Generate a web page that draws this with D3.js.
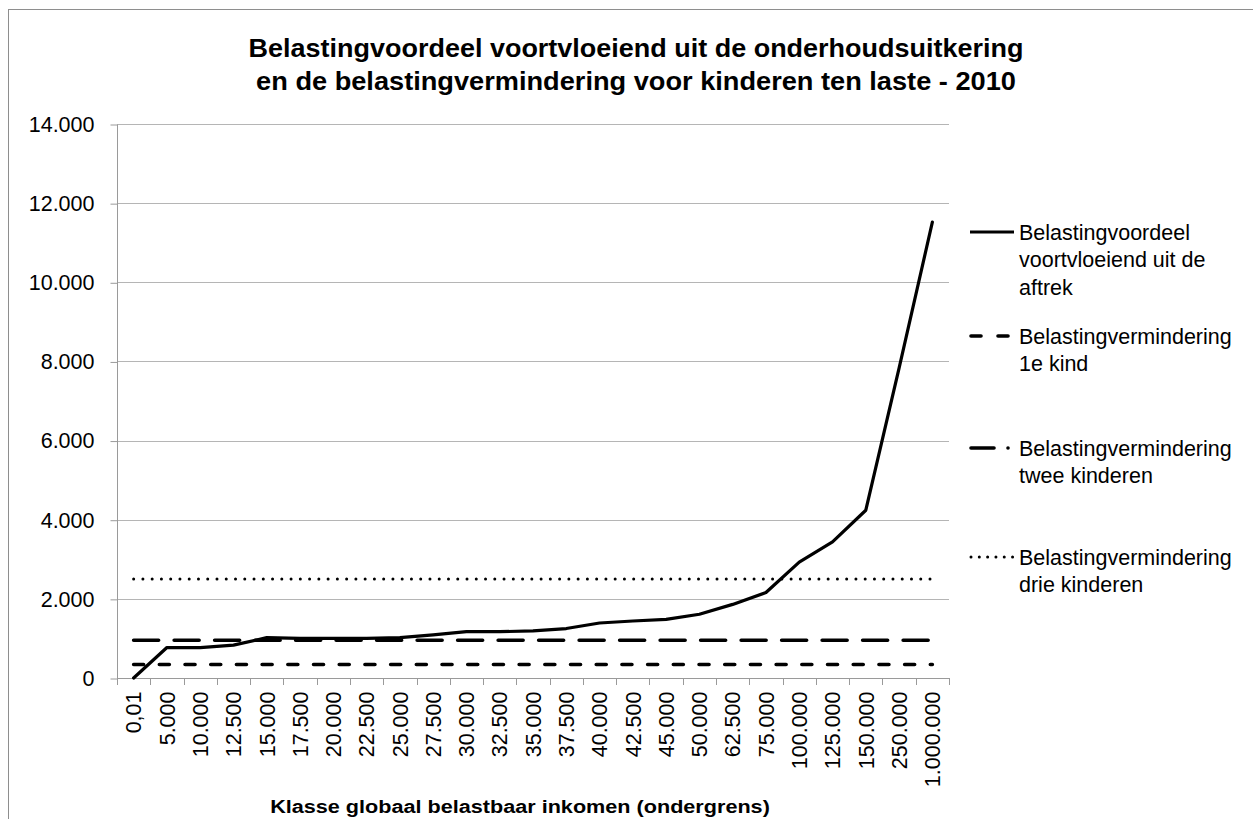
<!DOCTYPE html>
<html><head><meta charset="utf-8">
<script src="https://cdn.jsdelivr.net/npm/d3@7"></script>
<style>body{margin:0;background:#fff}svg{display:block;font-family:"Liberation Sans",Arial,sans-serif}</style>
</head><body><svg id="c" width="1253" height="819"></svg>
<script>
const categories = ["0,01","5.000","10.000","12.500","15.000","17.500","20.000","22.500","25.000","27.500","30.000","32.500","35.000","37.500","40.000","42.500","45.000","50.000","62.500","75.000","100.000","125.000","150.000","250.000","1.000.000"];
const voordeelAftrek = [0,770,770,830,1020,1000,1000,1000,1020,1090,1170,1170,1190,1250,1390,1440,1480,1610,1860,2160,2930,3440,4240,7830,11520];
const kind1 = categories.map(() => 342);
const tweeKinderen = categories.map(() => 955);
const drieKinderen = categories.map(() => 2500);
const yTicks = [0,2000,4000,6000,8000,10000,12000,14000];
const titleLines = ["Belastingvoordeel voortvloeiend uit de onderhoudsuitkering","en de belastingvermindering voor kinderen ten laste - 2010"];
const xTitle = "Klasse globaal belastbaar inkomen (ondergrens)";
const seriesNames = [["Belastingvoordeel","voortvloeiend uit de","aftrek"],["Belastingvermindering","1e kind"],["Belastingvermindering","twee kinderen"],["Belastingvermindering","drie kinderen"]];

const svg = d3.select("#c");
const L = 117, R = 949, T = 124, B = 678;
const x = d3.scaleBand().domain(categories).range([L, R]);
const y = d3.scaleLinear().domain([0, 14000]).range([B, T]);
const fmt = v => d3.format(",")(v).replace(/,/g, ".");

// frame
svg.append("rect").attr("x", 8.5).attr("y", 9.5).attr("width", 1400).attr("height", 1000)
  .attr("fill", "none").attr("stroke", "#8e8e8e").attr("stroke-width", 1);

// gridlines
svg.append("g").selectAll("line").data(yTicks.filter(d => d > 0)).join("line")
  .attr("x1", L).attr("x2", R).attr("y1", d => Math.round(y(d)) + 0.5).attr("y2", d => Math.round(y(d)) + 0.5)
  .attr("stroke", "#b5b5b5").attr("stroke-width", 1);

// y axis
const yAxis = svg.append("g").attr("transform", `translate(${L + 0.5},0.5)`)
  .call(d3.axisLeft(y).tickValues(yTicks).tickFormat(fmt).tickSize(7).tickPadding(16));
yAxis.select(".domain").attr("stroke", "#9a9a9a").attr("d", `M0,${T}V${B}`);
yAxis.selectAll(".tick line").attr("stroke", "#9a9a9a");
yAxis.selectAll(".tick text").attr("font-size", 21.5).attr("fill", "#000")
  .attr("font-family", "'Liberation Sans',Arial,sans-serif");

// x axis
const xAxis = svg.append("g").attr("transform", `translate(0,${B + 0.5})`)
  .call(d3.axisBottom(x).tickSize(0).tickPadding(0));
xAxis.select(".domain").attr("stroke", "#9a9a9a").attr("d", `M${L},0H${R}`);
xAxis.selectAll(".tick text").attr("font-size", 21.5).attr("fill", "#000")
  .attr("font-family", "'Liberation Sans',Arial,sans-serif")
  .attr("text-anchor", "end").attr("transform", "rotate(-90)")
  .attr("x", -13).attr("y", 0).attr("dy", "0.36em");
// boundary ticks
const bounds = categories.map(c => x(c)).concat([R]);
svg.append("g").selectAll("line").data(bounds).join("line")
  .attr("x1", d => Math.round(d) + 0.5).attr("x2", d => Math.round(d) + 0.5)
  .attr("y1", B).attr("y2", B + 7).attr("stroke", "#9a9a9a");

// series
const cx = c => x(c) + x.bandwidth() / 2;
const line = d3.line().x((d, i) => cx(categories[i])).y(d => y(d));
const styles = [
  {data: voordeelAftrek, dash: null, cap: "round", w: 3.2},
  {data: kind1, dash: "10,15.7", cap: "round", w: 3.6},
  {data: tweeKinderen, dash: "25,15.5", cap: "round", w: 3.6},
  {data: drieKinderen, dash: "0.01,9.25", cap: "round", w: 3.0}
];
const drawOrder = [3, 1, 2, 0];
drawOrder.forEach(k => {
  const s = styles[k];
  svg.append("path").datum(s.data).attr("d", line).attr("fill", "none")
    .attr("stroke", "#000").attr("stroke-width", s.w).attr("stroke-linecap", s.cap)
    .attr("stroke-linejoin", "round").attr("stroke-dasharray", s.dash);
});

// legend
const legY = [232, 336, 448, 557];
const lg = svg.append("g");
seriesNames.forEach((names, k) => {
  const s = styles[k];
  const sample = lg.append("g");
  if (k === 0) sample.append("line").attr("x1", 970).attr("x2", 1014);
  else if (k === 1) { sample.append("line").attr("x1", 971).attr("x2", 981); sample.append("line").attr("x1", 998).attr("x2", 1008); }
  else if (k === 2) { sample.append("line").attr("x1", 971).attr("x2", 994); sample.append("line").attr("x1", 1008).attr("x2", 1008.01); }
  else sample.append("line").attr("x1", 971).attr("x2", 1013).attr("stroke-dasharray", "0.01,8.3");
  sample.selectAll("line").attr("y1", legY[k]).attr("y2", legY[k]).attr("stroke", "#000")
    .attr("stroke-width", s.w).attr("stroke-linecap", k === 0 ? "butt" : "round");
  names.forEach((t, j) => {
    lg.append("text").attr("x", 1019).attr("y", legY[k] + j * 27.5).attr("dy", "0.35em")
      .attr("font-size", 21.5).attr("fill", "#000").text(t);
  });
});

// title (condensed to the reference width)
function fitText(txt, cx0, by, size, width) {
  const t = svg.append("text").attr("text-anchor", "middle").attr("font-weight", "bold")
    .attr("font-size", size).attr("x", 0).attr("y", 0).text(txt);
  const w = t.node().getComputedTextLength();
  t.attr("transform", `translate(${cx0},${by}) scale(${width / w},1)`);
  return t;
}
fitText(titleLines[0], 636, 57, 25, 775);
fitText(titleLines[1], 636, 90, 25, 760);

// x title
fitText(xTitle, 520, 813, 19, 500);
</script></body></html>
